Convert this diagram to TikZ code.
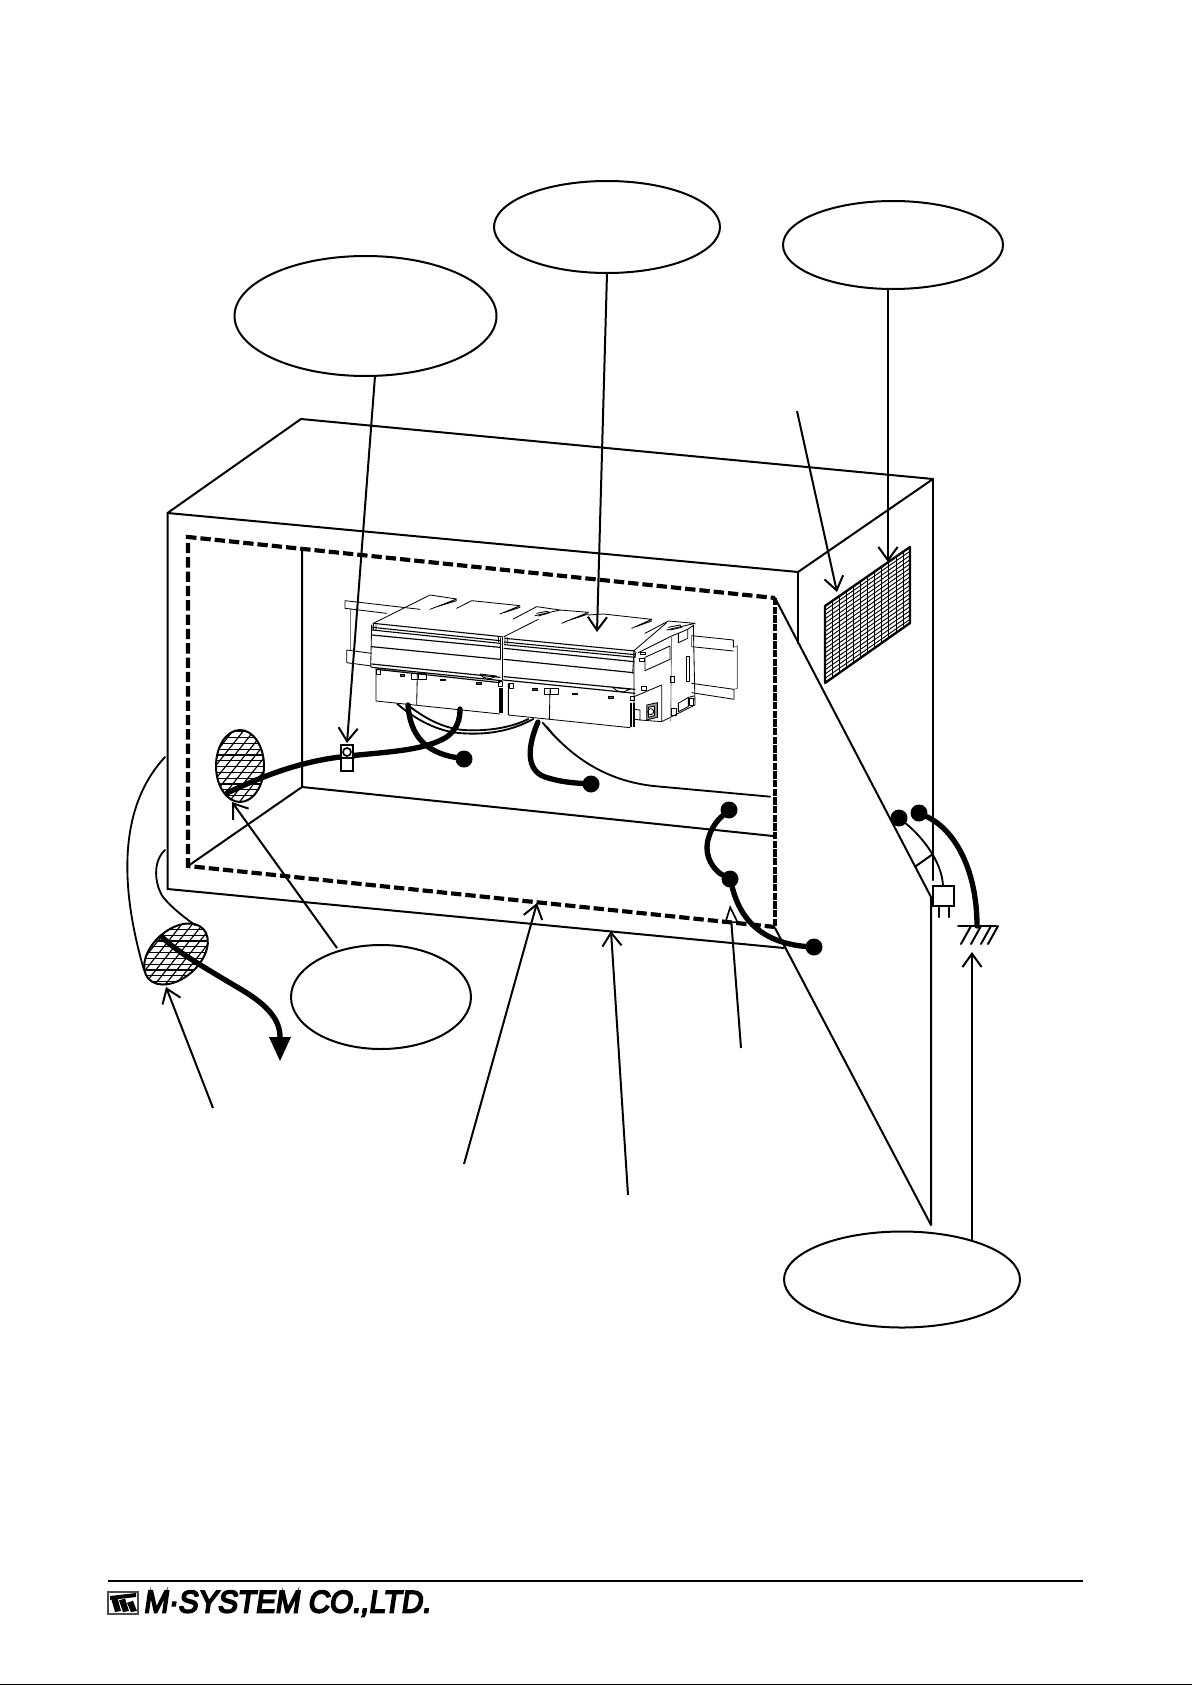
\documentclass[tikz,border=0pt]{standalone}
\usepackage{fontspec}
\setmainfont{Liberation Sans}
\newfontfamily\logofont[FakeBold=6,FakeSlant=0.16,FakeStretch=1.06]{Liberation Sans}
\usetikzlibrary{arrows.meta,shapes.geometric}
\tikzset{
  wire/.style={line width=1.2pt,line cap=round,line join=round},
  thinw/.style={line width=0.5pt,line cap=round,line join=round},
  grayw/.style={line width=0.5pt,draw=black!55},
  openarrow/.style={line width=1.2pt,-{Straight Barb[length=8pt,width=11.5pt,line width=1.2pt]}},
  triarrow/.style={line width=1.2pt,-{Triangle[open,length=11pt,width=8.5pt,line width=1pt]}},
  bubble/.style={ellipse,draw,line width=1.2pt,fill=white,inner sep=0pt},
  dashedbox/.style={line width=2.5pt,dash pattern=on 6.2pt off 2.4pt},
  dashedright/.style={line width=2.5pt,dash pattern=on 4.4pt off 0.8pt},
  cable/.style={line width=3.2pt,line cap=round},
  thincable/.style={line width=1.1pt,line cap=round},
  dot/.style={circle,fill=black,inner sep=0pt,minimum size=10.2pt},
  hatchbg/.style={line width=0.7pt},
  rim/.style={line width=1.2pt,draw=black}
}
\begin{document}
\begin{tikzpicture}[x=0.6pt,y=-0.6pt]
\useasboundingbox (0,0) rectangle (1192,1685);
\fill[white] (0,0) rectangle (1192,1685);

% ---- cabinet ----
\coordinate (FTL) at (167.5,513); \coordinate (FBL) at (167.5,889);
\coordinate (BTL) at (301,419); \coordinate (BTR) at (933,479);
\coordinate (FTR) at (798,572); \coordinate (FR2) at (798,643);
\coordinate (FBR) at (784,948);
\draw[wire] (FBL) -- (FTL) -- (BTL) -- (BTR) -- (FTR) -- (FTL);
\draw[wire] (FBL) -- (FBR);
\draw[wire] (FTR) -- (FR2);
\coordinate (DK) at (931,897); \coordinate (DB) at (931,1225);
\draw[wire] (BTR) -- (933,880);
\draw[wire] (775,598) -- (DK) -- (DB) -- (775,928);

% inner
\coordinate (IB) at (302,787);
\draw[wire] (302,549) -- (IB) -- (188,866);
\draw[wire] (IB) -- (773,836);
\draw[dashedbox] (775,927) -- (188,866) -- (188,537) -- (775,598);
\draw[dashedright] (775,598) -- (775,927);

% ---- PLC, in crop coordinates ----
\begin{scope}[shift={(320,570)},x=0.2pt,y=-0.2pt]
\draw[thinw] (75,92) -- (300,118) (75,115) -- (200,130) (75,92) -- (75,115);
\draw[thinw] (80,240) -- (155,250) (80,278) -- (155,288) (80,240) -- (80,278);
\draw[grayw] (90,115) -- (90,240);
\draw[thinw] (1115,197) -- (1240,210) -- (1240,232) (1115,230) -- (1240,243);
\draw[grayw] (1240,232) -- (1252,228) -- (1252,355) -- (1242,358);
\draw[thinw] (1115,340) -- (1242,358) -- (1242,388) -- (1115,368);
\draw[grayw] (1115,197) -- (1115,232);
% top surfaces
\draw[thinw] (160,160) -- (330,75) -- (410,87) -- (330,118) (345,112) -- (410,92);
\draw[thinw] (410,115) -- (455,92) -- (600,107) -- (540,132) (552,128) -- (600,112);
\draw[thinw] (580,147) -- (650,110) -- (720,120) -- (645,137) -- (680,130);
\draw[thinw] (650,130) -- (680,124) -- (690,128) -- (655,138);
\draw[thinw] (552,200) -- (655,148) (725,160) -- (805,127) (735,155) -- (805,132);
\draw[thinw] (720,120) -- (805,127) (805,135) -- (850,132) -- (995,148) -- (935,175) (948,170) -- (995,153);
\draw[thinw] (975,190) -- (1045,153) -- (1125,160) -- (1040,180);
\draw[thinw] (1045,172) -- (1080,165) -- (1085,172) -- (1050,180);
% module 1 face
\draw[thinw,line width=0.65pt] (160,160) -- (545,200) (157,172) -- (540,212) (157,180) -- (540,220);
\draw[thinw,line width=0.7pt] (155,195) -- (540,232) (155,230) -- (540,268) (155,282) -- (540,322);
\draw[thinw] (155,165) -- (152,290) (160,160) -- (160,180) (168,165) -- (168,180);
\draw[thinw] (540,205) -- (540,268) (548,200) -- (548,330) (536,200) -- (536,215);
\draw[thinw,line width=0.7pt] (155,292) -- (545,332) (168,298) -- (540,338);
\draw[thinw] (168,300) -- (168,393) -- (540,432) (292,312) -- (290,405);
\draw[thinw] (180,298) rectangle (168,312) (275,310) rectangle (318,328) (295,310) -- (295,325);
\draw[thinw,fill=black!70] (240,314) rectangle (254,318) (362,327) rectangle (376,331) (470,338) rectangle (484,342);
\draw[thinw] (480,312) -- (530,318) -- (510,326) -- (490,322) -- cycle;
\draw[line width=1.1pt] (540,355) -- (540,430) (546,355) -- (546,430);
\draw[thinw] (535,335) rectangle (548,350);
% module 2 face
\draw[thinw,line width=0.65pt] (555,205) -- (945,243) (553,216) -- (945,254) (553,224) -- (945,262);
\draw[thinw,line width=0.7pt] (552,235) -- (942,275) (552,268) -- (940,308) (552,320) -- (945,358);
\draw[thinw] (555,200) -- (555,220) (563,203) -- (563,220) (942,243) -- (938,310) (948,245) -- (945,262);
\draw[thinw,line width=0.7pt] (550,330) -- (945,370);
\draw[thinw] (565,340) -- (565,435) -- (930,473) (690,360) -- (688,448);
\draw[thinw] (580,340) rectangle (567,354) (672,355) rectangle (715,372) (692,355) -- (692,370);
\draw[thinw,fill=black!70] (638,356) rectangle (652,360) (758,370) rectangle (772,374) (866,380) rectangle (880,384);
\draw[thinw] (878,352) -- (930,358) -- (910,366) -- (890,362) -- cycle;
\draw[line width=1.1pt] (934,398) -- (934,472) (941,398) -- (941,472);
\draw[thinw] (930,378) rectangle (944,392);
% end section
\draw[thinw] (942,242) -- (1040,158) (955,248) -- (1055,198) -- (1075,190) (1103,178) -- (1122,165);
\draw[thinw] (1120,165) -- (1125,405) -- (1025,455) -- (960,450);
\draw[thinw] (942,245) -- (942,380) -- (1025,345) -- (1025,455);
\draw[grayw] (1055,198) -- (1052,455);
\draw[thinw] (975,262) -- (1050,228) -- (1050,268) -- (975,302) -- cycle;
\draw[thinw] (1075,190) -- (1103,178) -- (1103,205) -- (1075,218) -- cycle;
\draw[thinw] (962,246) rectangle (976,254) (958,266) rectangle (972,274) (965,350) rectangle (978,360);
\draw[thinw] (1098,258) rectangle (1108,335) (1052,320) rectangle (1063,337);
\draw[thinw] (1075,400) -- (1105,382) -- (1105,410) -- (1075,425) -- cycle (1105,382) -- (1122,378);
\draw[thinw] (1107,385) rectangle (1120,405) (1053,415) rectangle (1070,435);
\draw[thinw,fill=black!40] (980,405) -- (1012,398) -- (1012,442) -- (980,450) -- cycle;
\draw[thinw,fill=white] (985,412) -- (1003,408) -- (1003,437) -- (985,442) -- cycle;
\draw[thinw] (992,425) circle (9);
\draw[thinw] (942,382) -- (942,418) -- (960,420) -- (960,450) -- (945,448);
% thin cables under PLC
\draw[thincable] (232,402) .. controls (300,460) and (370,488) .. (430,490) .. controls (510,495) and (580,480) .. (640,447);
\draw[thincable] (262,404) .. controls (320,450) and (375,475) .. (430,480) .. controls (510,485) and (580,470) .. (625,447);
\draw[thincable] (668,458) .. controls (740,545) and (840,630) .. (1000,648) -- (1350,680);
\draw[thincable] (680,470) -- (700,495);
\end{scope}

% ---- hatched glands ----
\begin{scope}
\clip (240,766) ellipse [x radius=24,y radius=36];
\foreach \y in {726,731.8,...,810} \draw[hatchbg] (210,\y) -- (270,\y);
\foreach \x in {170,180.5,...,330} \draw[hatchbg] (\x,810) -- (\x+70,722);
\end{scope}
\draw[rim] (240,766) ellipse [x radius=24,y radius=36];
\begin{scope}
\clip[rotate around={42:(176,954)}] (176,954) ellipse [x radius=37,y radius=24];
\foreach \y in {912,917.8,...,1000} \draw[hatchbg] (130,\y) -- (225,\y);
\foreach \x in {90,100.5,...,280} \draw[hatchbg] (\x,1000) -- (\x+70,912);
\end{scope}
\draw[rim,rotate around={42:(176,954)}] (176,954) ellipse [x radius=37,y radius=24];

% ---- ventilation mesh ----
\begin{scope}
\clip (825,606) -- (910,547) -- (910,623) -- (825,683) -- cycle;
\foreach \i in {0,...,12} \pgfmathsetmacro{\xx}{825+\i*7.1}
  \draw[line width=0.55pt] (\xx,520) -- (\xx,700);
\foreach \j in {0,...,18} \pgfmathsetmacro{\yy}{606+\j*4.25}
  \draw[line width=0.55pt] (825,\yy) -- (910,\yy-59);
\end{scope}
\draw[wire,line width=1.4pt] (825,606) -- (910,547) -- (910,623) -- (825,683) -- cycle;

% ---- cables ----
\coordinate (C1s) at (227,793);
\draw[cable] (C1s) .. controls (265,775) and (300,762) .. (340,757) .. controls (380,752) and (420,752) .. (445,738) .. controls (458,730) and (460,718) .. (460,709);
\node[dot] (d1) at (464,759) {};
\coordinate (C2s) at (408,705);
\draw[cable] (C2s) .. controls (410,735) and (425,752) .. (d1);
\node[dot] (d2) at (591,784) {};
\coordinate (C3s) at (538,722);
\draw[cable] (C3s) .. controls (528,745) and (525,770) .. (545,777) .. controls (560,782) and (575,783) .. (d2);
\node[dot] (d3) at (729,810) {};
\node[dot] (d4) at (730,879) {};
\node[dot] (d5) at (814,947) {};
\draw[cable] (d3) .. controls (712,825) and (707,838) .. (707,848) .. controls (707,862) and (717,872) .. (d4);
\draw[cable] (d4) .. controls (737,905) and (750,945) .. (814,947);
\node[dot] (d6) at (899,818) {};
\node[dot] (d7) at (919,813) {};
\coordinate (gnd) at (977,926);
\draw[cable] (d7) .. controls (955,830) and (977,870) .. (gnd);
\draw[thincable] (d6) .. controls (920,835) and (942,860) .. (943,886);
\draw[wire] (916,866) -- (933,854);
\node[draw,line width=1.2pt,fill=white,minimum width=12.5pt,minimum height=12.3pt,inner sep=0pt] (plug) at (943.5,896) {};
\draw[wire] (939,906) -- (939,917) (949,906) -- (949,917);
\draw[wire] (958,926) -- (996,926);
\foreach \t in {971,981,991,998}
  \draw[wire] (\t,926) -- (\t-10,944);
% cable switch
\node[draw,line width=1.2pt,fill=white,minimum width=7pt,minimum height=15.6pt,inner sep=0pt] (clamp) at (347,758) {};
\draw[wire] (clamp.west) -- (clamp.east);
\draw[line width=1pt] (347,752) circle (4);

% exit cables
\coordinate (Ls1) at (165,757); \coordinate (Le1) at (144,970);
\draw[thincable] (Ls1) .. controls (125,800) and (115,870) .. (Le1);
\coordinate (Ls2) at (165,850); \coordinate (Le2) at (195,925);
\draw[thincable] (Ls2) .. controls (152,862) and (155,885) .. (163,897) .. controls (172,908) and (185,918) .. (Le2);
\coordinate (Xs) at (162,937); \coordinate (Xe) at (280,1037);
\draw[cable] (Xs) .. controls (175,950) and (195,962) .. (237,987) .. controls (265,1003) and (280,1018) .. (Xe);
\fill (269,1037) -- (291,1037) -- (280,1061) -- cycle;

% ---- callout bubbles and arrows ----
\node[bubble,minimum width=157.2pt,minimum height=72pt] (bA) at (365.5,316) {};
\node[bubble,minimum width=135.6pt,minimum height=55.2pt] (bB) at (607,227) {};
\node[bubble,minimum width=132pt,minimum height=52.8pt] (bC) at (893,245) {};
\node[bubble,minimum width=108pt,minimum height=62.4pt] (bD) at (381,997) {};
\node[bubble,minimum width=141.6pt,minimum height=57.6pt] (bE) at (902,1279.5) {};

\coordinate (aS) at (375,376); \coordinate (aT) at (347,743);
\coordinate (bS) at (607,273); \coordinate (bT) at (597,632);
\coordinate (cS) at (888,289); \coordinate (cT) at (888,562);
\coordinate (fS) at (797,411); \coordinate (fT) at (837,592);
\coordinate (dS) at (337,948); \coordinate (dT) at (232,802);
\coordinate (gS) at (213,1108); \coordinate (gT) at (166,987);
\coordinate (hS) at (464,1164); \coordinate (hT) at (537,903);
\coordinate (iS) at (628,1195); \coordinate (iT) at (611,931);
\coordinate (jS) at (741,1048); \coordinate (jT) at (730,905);
\coordinate (kS) at (972,1242); \coordinate (kT) at (972,952);
\draw[openarrow] (aS) -- (aT);
\draw[openarrow] (bS) -- (bT);
\draw[openarrow] (cS) -- (cT);
\draw[openarrow] (fS) -- (fT);
\draw[openarrow] (dS) -- (dT);
\draw[openarrow] (gS) -- (gT);
\draw[openarrow] (hS) -- (hT);
\draw[openarrow] (iS) -- (iT);
\draw[triarrow] (jS) -- (jT);
\draw[openarrow] (kS) -- (kT);

% ---- footer ----
\coordinate (fl) at (108,1581); \coordinate (fr) at (1083,1581);
\draw[line width=0.7pt] (fl) -- (fr);
\coordinate (pl) at (0,1684.5); \coordinate (pr) at (1192,1684.5);
\draw[line width=0.7pt] (pl) -- (pr);
\draw[line width=0.7pt,draw=black!70] (108,1592) rectangle (138,1614);
\foreach \s in {0,8,16}{
  \fill (111+\s,1598+0.3*\s) -- (117+\s,1596+0.3*\s) -- (121+\s,1611) -- (115+\s,1612) -- cycle;
}
\fill (110,1596) -- (136,1593) -- (136,1597) -- (110,1600) -- cycle;
\node[anchor=west,inner sep=0pt,font=\logofont\fontsize{18.6pt}{20pt}\selectfont,xscale=0.9] (logo) at (143,1603.5) {M·SYSTEM CO.,LTD.};
\end{tikzpicture}
\end{document}
